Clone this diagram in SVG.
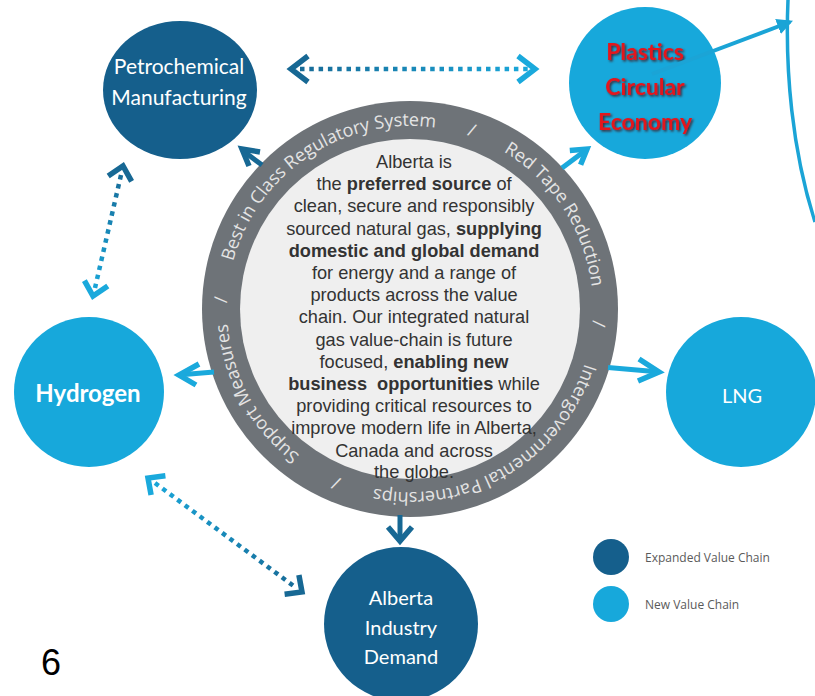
<svg xmlns="http://www.w3.org/2000/svg" xmlns:xlink="http://www.w3.org/1999/xlink" width="815" height="696" viewBox="0 0 815 696">
  <defs>
    <style>
      .dark { fill: #155f8c; }
      .light { fill: #17a8db; }
      .lbl { font-family: Lato, "Open Sans", "Liberation Sans", sans-serif; fill: #ffffff; text-anchor: middle; }
      .red { font-family: Lato, "Open Sans", "Liberation Sans", sans-serif; fill: #e3141c; font-weight: bold; font-size: 23px; text-anchor: middle; }
      .ringtxt { font-family: "Open Sans", "Liberation Sans", sans-serif; font-size: 18px; fill: #e4e4e4; }
      .body { font-family: "Liberation Sans", Arial, sans-serif; font-size: 18.2px; fill: #333333; text-anchor: middle; }
      .b { font-weight: bold; }
      .legend { font-family: "Open Sans", "Liberation Sans", sans-serif; font-size: 12px; fill: #5a5a5a; }
      .dots { fill: none; stroke-width: 4.5; stroke-dasharray: 4.5 4.8; }
      .chev { fill: none; stroke-width: 5.5; stroke-linejoin: miter; stroke-linecap: butt; }
      .solid { fill: none; stroke-width: 5; }
      .cd { stroke: #176894; }
      .cl { stroke: #1aa9dc; }
    </style>
    <linearGradient id="gTop" gradientUnits="userSpaceOnUse" x1="290" y1="69" x2="536" y2="69">
      <stop offset="0" stop-color="#176894"/>
      <stop offset="1" stop-color="#1aa9dc"/>
    </linearGradient>
    <linearGradient id="gLeft" gradientUnits="userSpaceOnUse" x1="123" y1="165" x2="93" y2="297">
      <stop offset="0" stop-color="#176894"/>
      <stop offset="1" stop-color="#1aa9dc"/>
    </linearGradient>
    <linearGradient id="gBL" gradientUnits="userSpaceOnUse" x1="147" y1="477" x2="303" y2="593">
      <stop offset="0" stop-color="#1aa9dc"/>
      <stop offset="1" stop-color="#176894"/>
    </linearGradient>
    <filter id="shadow" x="-10%" y="-10%" width="130%" height="140%">
      <feDropShadow dx="1.5" dy="1.5" stdDeviation="0.8" flood-color="#4a0000" flood-opacity="0.75"/>
    </filter>
    <marker id="tri" viewBox="0 0 10 10" refX="8" refY="5" markerWidth="4" markerHeight="4" orient="auto" markerUnits="strokeWidth">
      <path d="M0,0 L10,5 L0,10 z" fill="#1ba4d6"/>
    </marker>
    <path id="ringPath" d="M 593 309 A 183 183 0 1 1 227 309 A 183 183 0 1 1 593 309"/>
  </defs>

  <rect x="0" y="0" width="815" height="696" fill="#ffffff"/>

  <!-- Central ring node -->
  <g id="core">
    <circle cx="410" cy="309" r="208" fill="#6e7378"/>
    <circle cx="410" cy="309" r="170" fill="#efefef"/>
    <text class="ringtxt"><textPath xlink:href="#ringPath" href="#ringPath" startOffset="42%" text-anchor="middle">Support Measures</textPath></text>
    <text class="ringtxt"><textPath xlink:href="#ringPath" href="#ringPath" startOffset="50.8%" text-anchor="middle">/</textPath></text>
    <text class="ringtxt"><textPath xlink:href="#ringPath" href="#ringPath" startOffset="65.7%" text-anchor="middle">Best in Class Regulatory System</textPath></text>
    <text class="ringtxt"><textPath xlink:href="#ringPath" href="#ringPath" startOffset="80.3%" text-anchor="middle">/</textPath></text>
    <text class="ringtxt"><textPath xlink:href="#ringPath" href="#ringPath" startOffset="90.8%" text-anchor="middle">Red Tape Reduction</textPath></text>
    <text class="ringtxt"><textPath xlink:href="#ringPath" href="#ringPath" startOffset="1.25%" text-anchor="middle">/</textPath></text>
    <text class="ringtxt"><textPath xlink:href="#ringPath" href="#ringPath" startOffset="16.5%" text-anchor="middle">Intergovernmental Partnerships</textPath></text>
    <text class="ringtxt"><textPath xlink:href="#ringPath" href="#ringPath" startOffset="31.4%" text-anchor="middle">/</textPath></text>
    <g class="body">
      <text x="414" y="168">Alberta is</text>
      <text x="414" y="190.2">the <tspan class="b">preferred source</tspan> of</text>
      <text x="414" y="212.4">clean, secure and responsibly</text>
      <text x="414" y="234.6">sourced natural gas, <tspan class="b">supplying</tspan></text>
      <text x="414" y="256.8" class="b">domestic and global demand</text>
      <text x="414" y="279">for energy and a range of</text>
      <text x="414" y="301.2">products across the value</text>
      <text x="414" y="323.4">chain. Our integrated natural</text>
      <text x="414" y="345.6">gas value-chain is future</text>
      <text x="414" y="367.8">focused, <tspan class="b">enabling new</tspan></text>
      <text x="414" y="390"><tspan class="b">business&#160; opportunities</tspan> while</text>
      <text x="414" y="412.2">providing critical resources to</text>
      <text x="414" y="434.4">improve modern life in Alberta,</text>
      <text x="414" y="456.6">Canada and across</text>
      <text x="414" y="478.3">the globe.</text>
    </g>
  </g>

  <g id="petrochemical">
    <ellipse class="dark" cx="180" cy="90" rx="77" ry="69"/>
    <text class="lbl" font-size="21" x="179" y="74">Petrochemical</text>
    <text class="lbl" font-size="21" x="179" y="105">Manufacturing</text>
  </g>

  <g id="plastics">
    <circle class="light" cx="645" cy="83" r="76"/>
    <g class="red" filter="url(#shadow)">
      <text x="645" y="60">Plastics</text>
      <text x="645" y="95">Circular</text>
      <text x="645" y="130">Economy</text>
    </g>
  </g>

  <g id="hydrogen">
    <circle class="light" cx="89" cy="392" r="75"/>
    <text class="lbl" font-size="24" font-weight="bold" x="88" y="402">Hydrogen</text>
  </g>

  <g id="lng">
    <circle class="light" cx="741" cy="392" r="75"/>
    <text class="lbl" font-size="20" x="742" y="403">LNG</text>
  </g>

  <g id="alberta-industry">
    <circle class="dark" cx="401" cy="624" r="77"/>
    <text class="lbl" font-size="20" x="401" y="605">Alberta</text>
    <text class="lbl" font-size="20" x="401" y="635">Industry</text>
    <text class="lbl" font-size="20" x="401" y="664">Demand</text>
  </g>

  <g id="legend">
    <circle class="dark" cx="611" cy="557" r="18"/>
    <text class="legend" x="645" y="562">Expanded Value Chain</text>
    <circle class="light" cx="611" cy="604" r="18"/>
    <text class="legend" x="645" y="609">New Value Chain</text>
  </g>

  <g id="page-number">
    <text x="41" y="675" font-family="Liberation Sans, Arial, sans-serif" font-size="36" fill="#000000">6</text>
  </g>

  <g id="connectors">
    <!-- Petrochemical <-> Plastics (dotted) -->
    <line class="dots" x1="300" y1="69" x2="528" y2="69" stroke="url(#gTop)"/>
    <polyline class="chev cd" points="308,56 291,69 308,82"/>
    <polyline class="chev cl" points="518,56 535,69 518,82"/>

    <!-- Petrochemical <-> Hydrogen (dotted) -->
    <line class="dots" x1="121" y1="175" x2="95" y2="288" stroke="url(#gLeft)"/>
    <polyline class="chev cd" points="131.6,181.3 123,166 108.2,176"/>
    <polyline class="chev cl" points="107.8,286 93,296 84.4,280.7"/>

    <!-- Hydrogen <-> Alberta Industry (dotted) -->
    <line class="dots" x1="155" y1="483" x2="295" y2="587" stroke="url(#gBL)"/>
    <polyline class="chev cl" points="151.1,495 148,478 165.4,475.8"/>
    <polyline class="chev cd" points="284.6,594.2 302,592 298.9,575"/>

    <!-- Core -> Petrochemical -->
    <line class="solid cd" x1="262" y1="165" x2="244" y2="151.5"/>
    <polyline class="chev cd" points="260,152 242,149 249,166"/>

    <!-- Core -> Plastics -->
    <line class="solid cl" x1="562" y1="168" x2="584" y2="151.5"/>
    <polyline class="chev cl" points="569.8,150.4 587,149 580.6,164.8"/>

    <!-- Core -> Hydrogen -->
    <line class="solid cl" x1="214" y1="372" x2="181" y2="374.8"/>
    <polyline class="chev cl" points="199,364 179,375 196,385"/>

    <!-- Core -> LNG -->
    <line class="solid cl" x1="608" y1="367.4" x2="657" y2="371.8"/>
    <polyline class="chev cl" points="639,359 659,372 638,381"/>

    <!-- Core -> Alberta Industry -->
    <line class="solid cd" x1="400" y1="515" x2="400" y2="539"/>
    <polyline class="chev cd" points="388,527 400,541 412,527"/>

    <!-- Plastics -> external curve -->
    <line x1="652" y1="74" x2="790" y2="22" stroke="#1ba4d6" stroke-width="4" marker-end="url(#tri)"/>
    <path d="M 788 0 C 785 70, 792 150, 815 222" fill="none" stroke="#1ba4d6" stroke-width="3.5"/>
  </g>
</svg>
